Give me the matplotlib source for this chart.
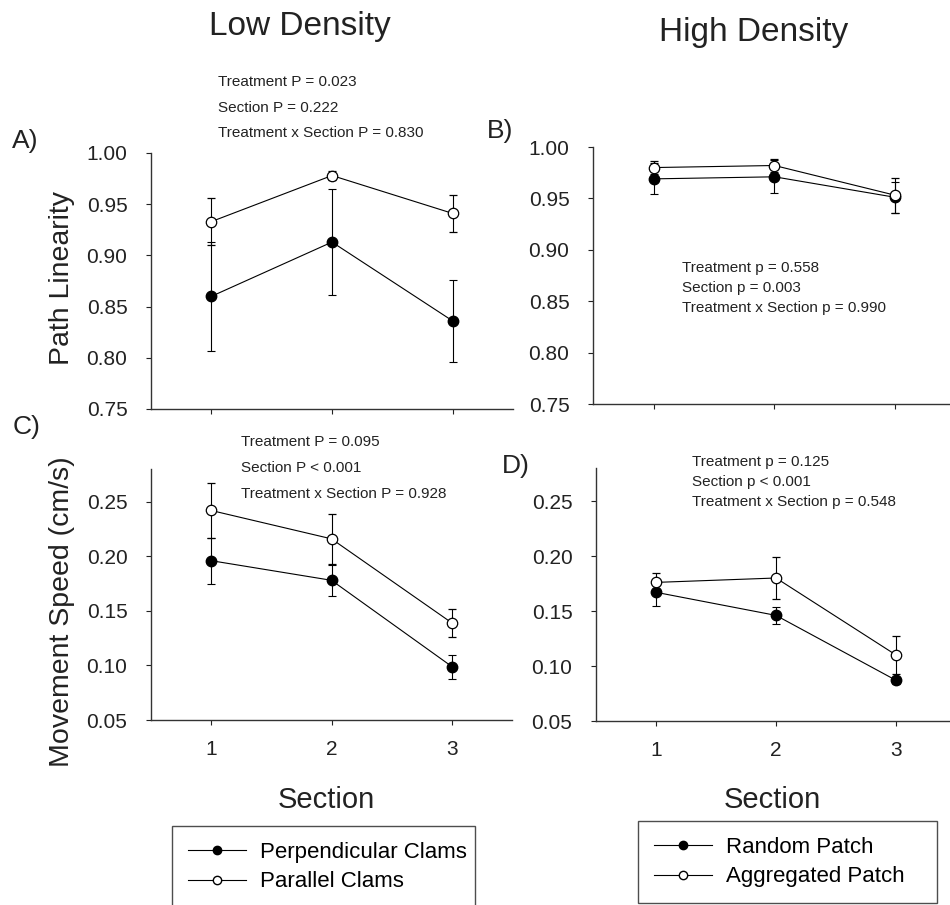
import numpy as np
import matplotlib.pyplot as plt
from matplotlib.lines import Line2D

plt.rcParams['font.family'] = ['Liberation Sans', 'DejaVu Sans']

W, H = 950, 905

section = [1, 2, 3]

# path linearity, low density
perp_lin = [0.860, 0.913, 0.836]
perp_lin_err = [0.053, 0.052, 0.040]
para_lin = [0.933, 0.978, 0.941]
para_lin_err = [0.023, 0.004, 0.018]

# path linearity, high density
rand_lin = [0.969, 0.971, 0.951]
rand_lin_err = [0.015, 0.016, 0.015]
aggr_lin = [0.980, 0.982, 0.953]
aggr_lin_err = [0.006, 0.006, 0.017]

# movement speed, low density
perp_spd = [0.196, 0.178, 0.099]
perp_spd_err = [0.021, 0.014, 0.011]
para_spd = [0.242, 0.216, 0.139]
para_spd_err = [0.025, 0.023, 0.013]

# movement speed, high density
rand_spd = [0.167, 0.146, 0.087]
rand_spd_err = [0.012, 0.008, 0.003]
aggr_spd = [0.176, 0.180, 0.110]
aggr_spd_err = [0.009, 0.019, 0.017]

stats_A = ['Treatment P = 0.023', 'Section P = 0.222', 'Treatment x Section P = 0.830']
stats_B = ['Treatment p = 0.558', 'Section p = 0.003', 'Treatment x Section p = 0.990']
stats_C = ['Treatment P = 0.095', 'Section P < 0.001', 'Treatment x Section P = 0.928']
stats_D = ['Treatment p = 0.125', 'Section p < 0.001', 'Treatment x Section p = 0.548']

lin_ticks = [0.75, 0.80, 0.85, 0.90, 0.95, 1.00]
spd_ticks = [0.05, 0.10, 0.15, 0.20, 0.25]


def fx(x):
    return x / W


def fy(y):
    return 1 - y / H


def add_axes(fig, left, right, top, bottom):
    return fig.add_axes([fx(left), fy(bottom), (right - left) / W, (bottom - top) / H])


def style_axes(ax, ylim, yticks, yfmt, xlabels=True):
    ax.set_xlim(0.5, 3.5)
    ax.set_ylim(*ylim)
    ax.set_xticks(section)
    if not xlabels:
        ax.set_xticklabels([])
    ax.set_yticks(yticks)
    ax.set_yticklabels([yfmt.format(v) for v in yticks])
    for s in ['top', 'right']:
        ax.spines[s].set_visible(False)
    for s in ['left', 'bottom']:
        ax.spines[s].set_linewidth(1.0)
        ax.spines[s].set_color('#333333')
    ax.tick_params(axis='y', direction='out', length=3.5, width=0.8, pad=13.5,
                   labelsize=15, colors='#222222')
    ax.tick_params(axis='x', direction='out', length=3.5, width=0.8, pad=11,
                   labelsize=15, colors='#222222')


def plot_pair(ax, y1, e1, y2, e2):
    ax.errorbar(section, y1, yerr=e1, color='black', lw=0.8, elinewidth=0.8,
                capsize=3, capthick=0.8, marker='o', ms=7.5, mfc='black',
                mec='black', zorder=2)
    ax.errorbar(section, y2, yerr=e2, color='black', lw=0.8, elinewidth=0.8,
                capsize=3, capthick=0.8, marker='o', ms=7.5, mfc='white',
                mec='black', mew=0.9, zorder=3)


def stats_text(fig, lines, x, y0, dy):
    for i, s in enumerate(lines):
        fig.text(fx(x), fy(y0 + i * dy), s, fontsize=11, color='#222222',
                 ha='left', va='center')


fig = plt.figure(figsize=(W / 100, H / 100), dpi=100)

axA = add_axes(fig, 151, 513, 153, 409)
axB = add_axes(fig, 593, 956, 147, 404)
axC = add_axes(fig, 151, 512, 469, 720)
axD = add_axes(fig, 596, 956, 468, 721)

plot_pair(axA, perp_lin, perp_lin_err, para_lin, para_lin_err)
plot_pair(axB, rand_lin, rand_lin_err, aggr_lin, aggr_lin_err)
plot_pair(axC, perp_spd, perp_spd_err, para_spd, para_spd_err)
plot_pair(axD, rand_spd, rand_spd_err, aggr_spd, aggr_spd_err)

for ax in (axA, axB):
    style_axes(ax, (0.75, 1.00), lin_ticks, '{:.2f}', xlabels=False)
for ax in (axC, axD):
    style_axes(ax, (0.05, 0.28), spd_ticks, '{:.2f}')

# titles, axis labels and panel letters
fig.text(fx(300), fy(26), 'Low Density', fontsize=24, ha='center', va='center', color='#222222')
fig.text(fx(754), fy(33), 'High Density', fontsize=24, ha='center', va='center', color='#222222')
fig.text(fx(62), fy(278), 'Path Linearity', fontsize=20.5, rotation=90,
         ha='center', va='center', color='#222222')
fig.text(fx(62), fy(612), 'Movement Speed (cm/s)', fontsize=20.5, rotation=90,
         ha='center', va='center', color='#222222')
fig.text(fx(326), fy(800), 'Section', fontsize=21, ha='center', va='center', color='#222222')
fig.text(fx(772), fy(800), 'Section', fontsize=21, ha='center', va='center', color='#222222')

for letter, x, y in [('A)', 25, 141), ('B)', 500, 131), ('C)', 27, 427), ('D)', 516, 466)]:
    fig.text(fx(x), fy(y), letter, fontsize=19, ha='center', va='center', color='#222222')

stats_text(fig, stats_A, 218, 82, 25.5)
stats_text(fig, stats_B, 682, 268, 20)
stats_text(fig, stats_C, 241, 442, 25.8)
stats_text(fig, stats_D, 692, 462, 20)


def legend_handles():
    h1 = Line2D([], [], color='black', lw=0.8, marker='o', ms=6, mfc='black', mec='black')
    h2 = Line2D([], [], color='black', lw=0.8, marker='o', ms=6, mfc='white', mec='black')
    return [h1, h2]


# legend boxes: (labels, left, top, right) in pixels
for labels, x0, y0, x1 in [(['Perpendicular Clams', 'Parallel Clams'], 172, 826, 475),
                           (['Random Patch', 'Aggregated Patch'], 638, 821, 937)]:
    leg = fig.legend(legend_handles(), labels, loc='upper left', mode='expand',
                     bbox_to_anchor=(fx(x0), fy(y0) - 0.2, (x1 - x0) / W, 0.2),
                     bbox_transform=fig.transFigure, fontsize=16, frameon=True,
                     fancybox=False, edgecolor='#222222', handlelength=2.6,
                     handletextpad=0.65, labelspacing=0.38, borderpad=0.72,
                     borderaxespad=0)
    leg.get_frame().set_linewidth(1.0)

fig.savefig('out.png', dpi=100)
